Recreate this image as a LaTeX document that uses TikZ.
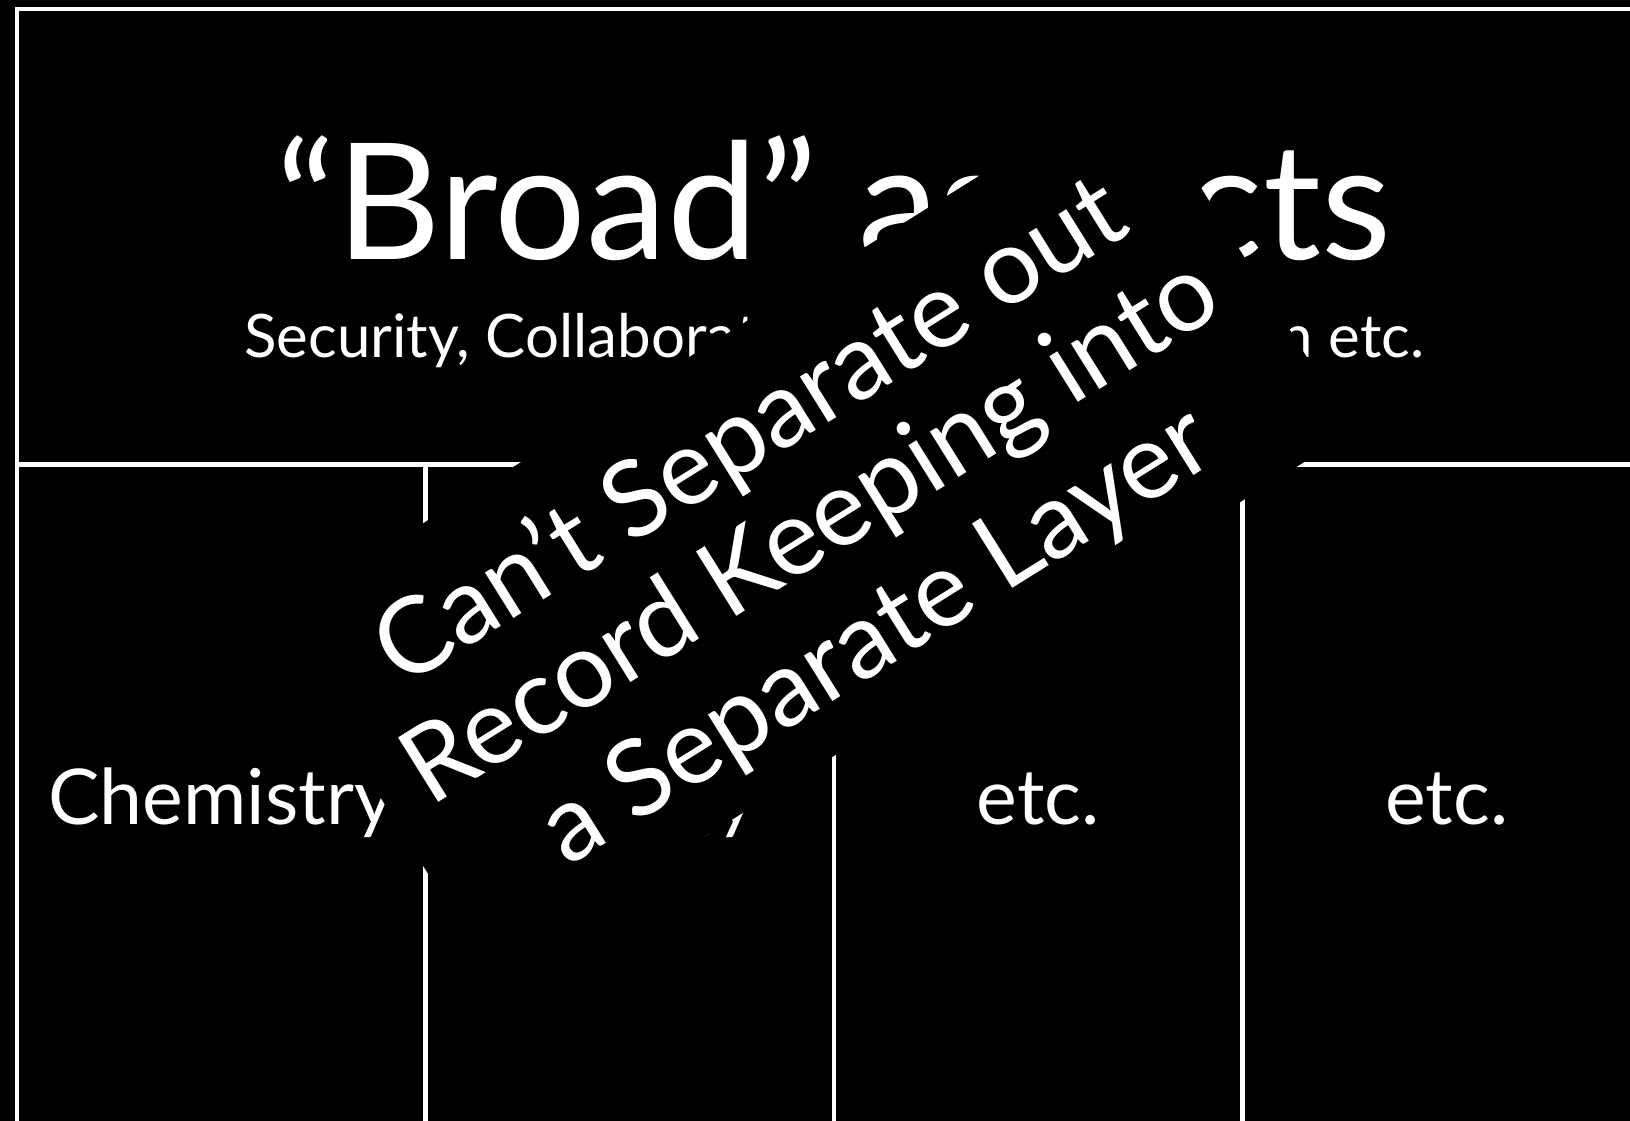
\documentclass[tikz,border=0pt]{standalone}
\usepackage{fontspec}
\setmainfont{Lato}
\begin{document}
\begin{tikzpicture}[x=1pt,y=1pt,
  frameline/.style={draw=white,line width=4.5pt},
  lbl/.style={text=white,inner sep=0pt,anchor=base},
  titlefont/.style={font=\fontsize{162}{190}\selectfont},
  subfont/.style={font=\fontsize{60}{70}\selectfont},
  colfont/.style={font=\fontsize{77}{90}\selectfont},
  rotfont/.style={font=\fontsize{106}{125}\selectfont},
  blocker/.style={fill=black,draw=none}]
\fill[black] (0,0) rectangle (1630,1121);
\useasboundingbox (0,0) rectangle (1630,1121);
% frame
\draw[frameline] (1640,1112.2) -- (17.2,1112.2) -- (17.2,-10);
\draw[frameline] (17.2,656.3) -- (1640,656.3);
\draw[frameline] (425.5,656.3) -- (425.5,-10);
\draw[frameline] (834,656.3) -- (834,-10);
\draw[frameline] (1242.5,656.3) -- (1242.5,-10);
% texts
\node[lbl,titlefont] (title) at (834,861) {“Broad” aspects};
\node[lbl,subfont,anchor=base west] (sub) at (244,763) {\makebox[1180pt][l]{Security, Collaboration,\hfill Preservation etc.}};
\node[lbl,colfont] (c1) at (221.3,296) {Chemistry};
\node[lbl,colfont] (c2) at (629.8,296) {Biology};
\node[lbl,colfont] (c3) at (1038.3,296) {etc.};
\node[lbl,colfont] (c4) at (1446.8,296) {etc.};
% rotated overlay
\begin{scope}[shift={(0,1121)},rotate=32]
\fill[blocker] (-100,-668) rectangle (919,-1083);
\node[lbl,rotfont,transform shape] (r1) at (408,-797) {Can’t Separate out};
\node[lbl,rotfont,transform shape] (r2) at (406,-913) {Record Keeping into};
\node[lbl,rotfont,transform shape] (r3) at (406,-1036) {a Separate Layer};
\end{scope}
\end{tikzpicture}
\end{document}
